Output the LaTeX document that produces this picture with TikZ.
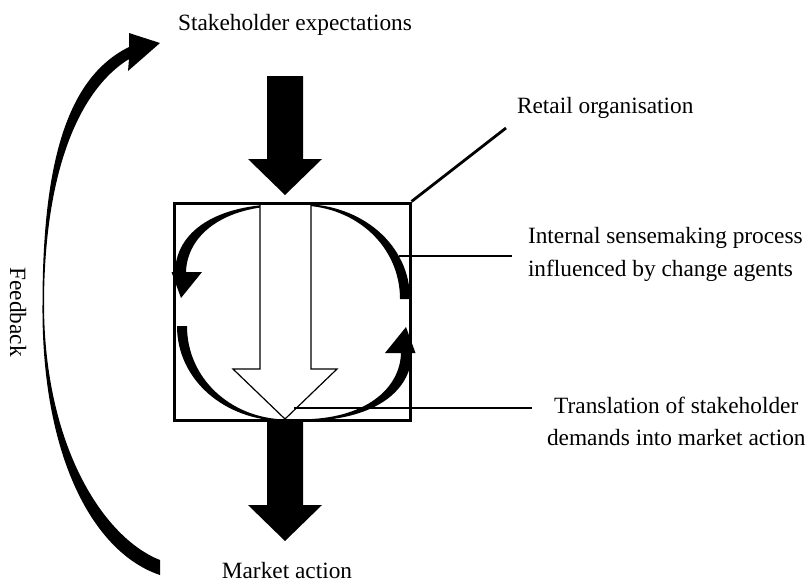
\documentclass[tikz,border=0pt]{standalone}
\usepackage{fontspec}
\setmainfont{Liberation Serif}
\begin{document}
\begin{tikzpicture}[x=0.75pt,y=-0.75pt,
  lbl/.style={font=\fontsize{17.5}{21}\selectfont, inner sep=0pt, outer sep=0pt},
  conn/.style={line width=2.1pt},
  boxstyle/.style={draw=black, line width=2.25pt, minimum width=177pt, minimum height=162.75pt, inner sep=0pt},
  blk/.style={fill=black, draw=none},
  hollow/.style={fill=white, draw=black, line width=0.9pt, line join=miter}]
\useasboundingbox (0,0) rectangle (809,583);

% circulating sensemaking arrows (left half, then rotated copy)
\begin{scope}
  \fill[blk] (285,204) .. controls (215,204) and (176,232) .. (175,272)
     -- (171.5,272) -- (181,298) -- (202,272) -- (186,272)
     .. controls (187,236) and (222,206) .. (285,205.7) -- cycle;
  \fill[blk] (177,326) .. controls (177,380) and (225,421) .. (285,421)
     -- (285,419.5) .. controls (230,418) and (187,378) .. (187,326) -- cycle;
\end{scope}
\begin{scope}[rotate around={180:(293.5,312.5)}]
  \fill[blk] (285,204) .. controls (215,204) and (176,232) .. (175,272)
     -- (171.5,272) -- (181,298) -- (202,272) -- (186,272)
     .. controls (187,236) and (222,206) .. (285,205.7) -- cycle;
  \fill[blk] (177,326) .. controls (177,380) and (225,421) .. (285,421)
     -- (285,419.5) .. controls (230,418) and (187,378) .. (187,326) -- cycle;
\end{scope}

% hollow translation arrow
\draw[hollow] (260,203) -- (260,369) -- (233,369) -- (285,419) -- (337,369) -- (311,369) -- (311,203) -- cycle;

% organisation box
\node[boxstyle] (org) at (292,311.5) {};

% input / output arrows
\fill[blk] (267,76) -- (303,76) -- (303,159) -- (322,159) -- (285,195) -- (248,159) -- (267,159) -- cycle;
\fill[blk] (267,422) -- (303,422) -- (303,505) -- (322,505) -- (285,541) -- (248,505) -- (267,505) -- cycle;

% feedback arrow
\fill[blk] (160,575) .. controls (94,553) and (41.5,458) .. (42.5,305)
   .. controls (42.5,165) and (66,78) .. (129,47)
   -- (129,33) -- (160,43) -- (128,71) -- (129,59)
   .. controls (76,92) and (44,178) .. (44,305)
   .. controls (44.5,447) and (104,538) .. (160,560) -- cycle;

% labels
\node[lbl, anchor=base] (stake) at (295,30) {Stakeholder expectations};
\node[lbl, anchor=base] (market) at (287,578) {Market action};
\node[lbl, anchor=base west] (retail) at (517,113) {Retail organisation};
\node[lbl, anchor=base west, align=left, font=\fontsize{17.5}{24.75}\selectfont] (internal) at (528,276) {Internal sensemaking process\\influenced by change agents};
\node[lbl, anchor=base west, align=center, font=\fontsize{17.5}{24}\selectfont] (transl) at (547,445) {Translation of stakeholder\\demands into market action};
\node[lbl, rotate=-90] (feedback) at (18,312) {Feedback};

% connectors
\coordinate (retailEnd) at (506,128);
\coordinate (intStart) at (399,256);
\coordinate (intEnd) at (512,256);
\coordinate (trStart) at (294,408);
\coordinate (trEnd) at (532,408);
\draw[conn] (org.north east) -- (retailEnd);
\draw[conn] (intStart) -- (intEnd);
\draw[conn] (trStart) -- (trEnd);
\end{tikzpicture}
\end{document}
